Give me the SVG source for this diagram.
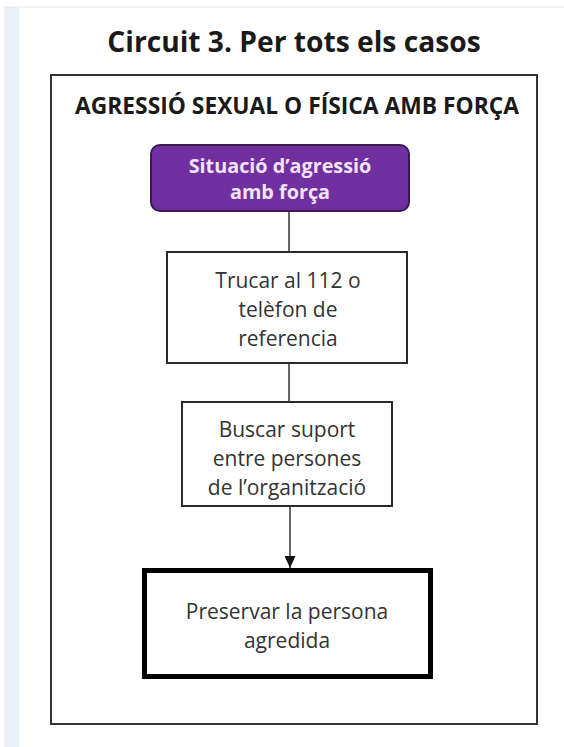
<svg xmlns="http://www.w3.org/2000/svg" width="564" height="747" viewBox="0 0 564 747">
<defs>
<style>
.t{font-family:"Open Sans","Liberation Sans",sans-serif;text-anchor:middle;}
.title{font-size:28.2px;font-weight:bold;fill:#1a1a1a;}
.hdr{font-size:22.8px;font-weight:bold;fill:#1a1a1a;}
.lbl{font-size:21px;fill:#333;}
.plbl{font-size:19.8px;font-weight:bold;fill:#f3e3f6;}
.box{fill:#fff;stroke:#2a2a2a;stroke-width:2;}
.con{stroke:#333;stroke-width:1.5;fill:none;}
</style>
<marker id="arr" viewBox="0 0 12 11" refX="12" refY="5.5" markerWidth="12" markerHeight="11" markerUnits="userSpaceOnUse" orient="auto">
<path d="M0,0 L12,5.5 L0,11 Z" fill="#111"/>
</marker>
</defs>
<rect x="0" y="0" width="564" height="747" fill="#fff"/>
<rect x="4" y="7" width="15" height="740" fill="#e9eef8"/>
<line x1="4" y1="7" x2="564" y2="7" stroke="#e6e9f0" stroke-width="1"/>
<g id="title"><text class="t title" x="294" y="52">Circuit 3. Per tots els casos</text></g>
<g id="frame">
<rect x="51" y="75" width="486" height="649" fill="#fff" stroke="#333" stroke-width="2"/>
<text class="t hdr" x="297" y="114">AGRESSIÓ SEXUAL O FÍSICA AMB FORÇA</text>
</g>
<g id="connectors">
<line class="con" x1="289" y1="211" x2="289" y2="251"/>
<line class="con" x1="289" y1="363" x2="289" y2="402"/>
<line class="con" x1="290" y1="506" x2="290" y2="568" marker-end="url(#arr)"/>
</g>
<g id="n1">
<rect x="151" y="145" width="258" height="66" rx="9" fill="#7030a0" stroke="#3b1a52" stroke-width="2"/>
<text class="t plbl" x="280" y="173">Situació d’agressió</text>
<text class="t plbl" x="280" y="199">amb força</text>
</g>
<g id="n2">
<rect class="box" x="167" y="252" width="240" height="111"/>
<text class="t lbl" x="288" y="288">Trucar al 112 o</text>
<text class="t lbl" x="288" y="317">telèfon de</text>
<text class="t lbl" x="288" y="346">referencia</text>
</g>
<g id="n3">
<rect class="box" x="182" y="402" width="210" height="104"/>
<text class="t lbl" x="287" y="437">Buscar suport</text>
<text class="t lbl" x="287" y="466">entre persones</text>
<text class="t lbl" x="287" y="495">de l’organització</text>
</g>
<g id="n4">
<rect x="144.5" y="570.5" width="286" height="106" fill="#fff" stroke="#000" stroke-width="5"/>
<text class="t lbl" x="287" y="619">Preservar la persona</text>
<text class="t lbl" x="287" y="648">agredida</text>
</g>
</svg>
